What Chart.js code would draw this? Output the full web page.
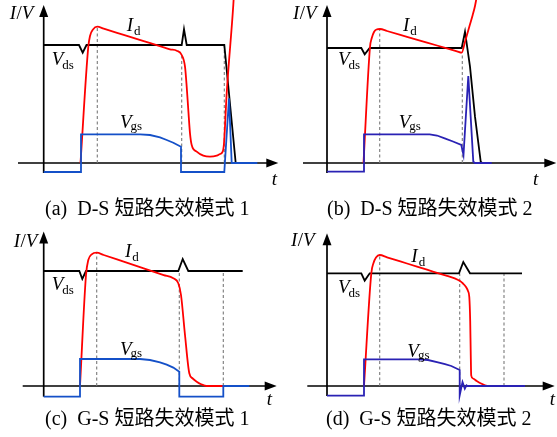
<!DOCTYPE html>
<html><head><meta charset="utf-8">
<script src="https://cdn.jsdelivr.net/npm/chart.js@4.4.1/dist/chart.umd.min.js"></script>
<style>
html,body{margin:0;padding:0;background:#fff;}
#wrap{position:relative;width:557px;height:437px;overflow:hidden;background:#fff;}
#wrap canvas{position:absolute;}
.cap{position:absolute;font-family:"Liberation Serif","Times New Roman","Noto Sans CJK SC",serif;font-size:20px;line-height:20px;white-space:pre;color:#000;}
</style></head><body>
<div id="wrap">
<canvas id="ca" width="283" height="200" style="left:0;top:0"></canvas>
<canvas id="cb" width="274" height="200" style="left:283px;top:0"></canvas>
<canvas id="cc" width="283" height="200" style="left:0;top:223px"></canvas>
<canvas id="cd" width="274" height="200" style="left:283px;top:223px"></canvas>
<div class="cap" style="left:45px;top:198px">(a)  D-S 短路失效模式 1</div>
<div class="cap" style="left:327px;top:198px">(b)  D-S 短路失效模式 2</div>
<div class="cap" style="left:45px;top:408px">(c)  G-S 短路失效模式 1</div>
<div class="cap" style="left:326px;top:408px">(d)  G-S 短路失效模式 2</div>
</div>
<script>
// ---- data: [time, value] (arbitrary units, value 0 = time axis) ----
// (a) D-S short-circuit failure mode 1
const vdsA = [[0,118],[35.3,118],[39,110.3],[42.8,118],[138,118],[140.3,133.7],[143,118],[180.6,118],[192,0]];
const idA  = [[36.8,0],[44.6,116.3],[46.3,127],[49.3,133.5],[53.6,136.3],[60,134.3],[80,128.1],[100,121.9],[120,115.7],[126.3,113.7],[133,112.3],[138,108],[141.3,96.3],[143,76.3],[144.6,53],[146.3,29.7],[148,18],[153,11.3],[159.6,7.3],[166.3,6.3],[173,7.3],[176.3,9],[179,11.3],[180.3,19.7],[183,69.7],[189.6,158],[191,182]];
const vgsA = [[0,-9],[37.3,-9],[37.3,28.7],[96.3,28.7],[106.3,28],[116.3,25.7],[123,23],[129.6,20.3],[137.3,16.3],[137.3,-9],[180.6,-9],[185.3,64.7],[188,0],[213.6,0]];
const dashA = [[53.6,136.3],[138,110],[180.6,118]];
// (b) D-S short-circuit failure mode 2
const vdsB = [[0,115],[34.3,115],[37.7,108.7],[42.7,115],[134.7,115],[138,131.3],[143,96.3],[148,46.3],[153.7,1.3],[155,0]];
const idB  = [[36.5,0],[43,116],[44.7,124.7],[47,131],[49.5,133.5],[53,134],[60,132],[80,126.2],[100,120.4],[120,114.6],[130,111.7],[134.7,110.3],[138,121.3],[142.3,136.3],[145.7,148],[148,157],[149.5,165]];
const vgsB = [[0,-8.7],[37,-8.7],[37,28.7],[102.7,28.7],[110,27.5],[117.7,24.7],[126,21.5],[134.3,18],[136.5,8],[141.3,87],[146.3,1.3],[148,0],[164.7,0]];
const dashB = [[52.7,133.7],[135.3,110.3]];
// (c) G-S short-circuit failure mode 1
const vdsC = [[0,115],[35.6,115],[38.6,107],[42.3,115],[134.6,115],[139,127],[144.6,115],[199,115]];
const idC  = [[36.3,0],[42.3,111],[44.6,126],[48,131.7],[53,133.3],[60,131],[80,124.3],[100,117.6],[120,110.9],[129.6,107.7],[134.6,102.7],[137.3,91],[141.3,51],[145.6,12.7],[149,7.5],[153,4.3],[158,1.5],[163,0],[179.6,0]];
const vgsC = [[0,-10.7],[36.3,-10.7],[36.3,27],[96.3,27],[106.3,26],[116.3,23.7],[123,21.3],[129.6,18.4],[135.6,14.3],[135.6,-10.7],[179.6,-10.7],[179.6,0],[205.6,0]];
const dashC = [[53,133.3],[135.6,115],[179.6,115]];
// (d) G-S short-circuit failure mode 2
const vdsD = [[0,112.7],[34.3,112.7],[37.7,105.4],[42.7,112.7],[132,112.7],[136.3,124],[143,112.7],[195,112.7]];
const idD  = [[37,0],[44.3,112.7],[46.5,123],[49,128.5],[52.7,131],[60,128.7],[80,122.5],[100,116.3],[120,110.1],[127.7,107.7],[133,105],[136,102.5],[139,99],[141,95],[142.3,89],[143.2,65],[143.7,35],[144.2,10.7],[146,7.5],[149.7,5],[154,2.5],[158,0.7],[162,0],[195,0]];
const vgsD = [[0,-9.6],[37,-9.6],[37,26.7],[91,26.7],[101,26],[111,23.7],[118,21.8],[124.3,20],[132.7,16],[132.7,-9.3],[135.5,4],[137.8,-2.6],[139.5,0.7],[140.5,0],[198,0]];
const dashD = [[52.7,131],[132.7,112.7],[177,112.7]];

const RED = '#ff0000', BLACK = '#000000', BLUE1 = '#1450c8', BLUE2 = '#2a22b4', GREY = '#7a7a7a';
const FI = 'italic 19px "Liberation Serif"', FN = '19px "Liberation Serif"', FS = '13px "Liberation Serif"';

function pts(a){ return a.map(p => ({x:p[0], y:p[1]})); }
function dashPts(a){ const o=[]; a.forEach(p => { o.push({x:p[0],y:0},{x:p[0],y:p[1]},{x:p[0],y:null}); }); return o; }

function runs(ctx, x, y, list){
  let cx = x;
  list.forEach(r => { ctx.font = r.f; ctx.fillText(r.s, cx, y + (r.dy||0)); cx += ctx.measureText(r.s).width + (r.g||0); });
}

function makePlugin(cfg){
  return {
    id:'schem',
    beforeDatasetsDraw(chart){
      const ctx = chart.ctx, xs = chart.scales.x, ys = chart.scales.y;
      const px = v => xs.getPixelForValue(v), py = v => ys.getPixelForValue(v);
      ctx.save();
      ctx.strokeStyle = BLACK; ctx.fillStyle = BLACK; ctx.lineWidth = 1.7;
      const y0 = py(0), x0 = px(0), xt = px(cfg.xTo), yt = py(cfg.yTo);
      ctx.beginPath(); ctx.moveTo(px(cfg.xFrom), y0); ctx.lineTo(xt - 8, y0); ctx.stroke();
      ctx.beginPath(); ctx.moveTo(xt, y0); ctx.lineTo(xt - 12, y0 - 4.5); ctx.lineTo(xt - 12, y0 + 4.5); ctx.closePath(); ctx.fill();
      ctx.beginPath(); ctx.moveTo(x0, py(cfg.yFrom)); ctx.lineTo(x0, yt + 8); ctx.stroke();
      ctx.beginPath(); ctx.moveTo(x0, yt); ctx.lineTo(x0 - 4.5, yt + 12); ctx.lineTo(x0 + 4.5, yt + 12); ctx.closePath(); ctx.fill();
      ctx.restore();
    },
    afterDatasetsDraw(chart){
      const ctx = chart.ctx, xs = chart.scales.x, ys = chart.scales.y;
      const px = v => xs.getPixelForValue(v), py = v => ys.getPixelForValue(v);
      ctx.save(); ctx.fillStyle = BLACK; ctx.textBaseline = 'alphabetic'; ctx.textAlign = 'left';
      const L = cfg.lab;
      runs(ctx, px(L.iv[0]), py(L.iv[1]), [{s:'I',f:FI,g:0.5},{s:'/',f:FN},{s:'V',f:FI}]);
      runs(ctx, px(L.id[0]), py(L.id[1]), [{s:'I',f:FI,g:1},{s:'d',f:FS,dy:4}]);
      runs(ctx, px(L.vds[0]), py(L.vds[1]), [{s:'V',f:FI,g:-1},{s:'ds',f:FS,dy:4}]);
      runs(ctx, px(L.vgs[0]), py(L.vgs[1]), [{s:'V',f:FI,g:-1},{s:'gs',f:FS,dy:2}]);
      runs(ctx, px(L.t[0]), py(L.t[1]), [{s:'t',f:FI}]);
      ctx.restore();
    }
  };
}

function panel(id, W, vds, idd, vgs, dash, blue, cfg){
  const lw = 1.8;
  new Chart(document.getElementById(id), {
    type:'scatter',
    data:{ datasets:[
      {data:dashPts(dash), showLine:true, borderColor:GREY, borderWidth:1.1, borderDash:[3,2.5], pointRadius:0, tension:0, order:4},
      {data:pts(vds), showLine:true, borderColor:BLACK, borderWidth:lw, pointRadius:0, tension:0, order:3},
      {data:pts(idd), showLine:true, borderColor:RED, borderWidth:lw, pointRadius:0, cubicInterpolationMode:'monotone', order:2},
      {data:pts(vgs), showLine:true, borderColor:blue, borderWidth:lw, pointRadius:0, tension:0, order:1}
    ]},
    options:{
      responsive:false, animation:false, events:[],
      layout:{padding:0},
      plugins:{legend:{display:false}, tooltip:{enabled:false}},
      scales:{
        x:{type:'linear', display:false, min:-cfg.ox, max:W - cfg.ox},
        y:{type:'linear', display:false, min:cfg.oy - 200, max:cfg.oy}
      }
    },
    plugins:[makePlugin(cfg)]
  });
}

panel('ca', 283, vdsA, idA, vgsA, dashA, BLUE1, {ox:43.7, oy:163, xFrom:-25.7, xTo:234.6, yFrom:-10, yTo:158,
  lab:{iv:[-34,143.7], id:[83,132.3], vds:[8,98], vgs:[76.3,34.7], t:[228,-21.5]}});
panel('cb', 274, vdsB, idB, vgsB, dashB, BLUE2, {ox:44, oy:163, xFrom:-24, xTo:229.3, yFrom:-10, yTo:158,
  lab:{iv:[-34,143.7], id:[76,132.3], vds:[11,98], vgs:[71.7,34.7], t:[206,-21.5]}});
panel('cc', 283, vdsC, idC, vgsC, dashC, BLUE1, {ox:43.7, oy:163, xFrom:-21, xTo:233, yFrom:-10.7, yTo:154.4,
  lab:{iv:[-30,139.4], id:[81.3,129.4], vds:[8,96], vgs:[76.3,31], t:[223,-19]}});
panel('cd', 274, vdsD, idD, vgsD, dashD, BLUE2, {ox:44, oy:163, xFrom:-19.7, xTo:227.7, yFrom:-10, yTo:152.7,
  lab:{iv:[-36,140.4], id:[84.3,124.4], vds:[11,92.7], vgs:[80.3,29.4], t:[222.7,-19]}});
</script>
</body></html>
